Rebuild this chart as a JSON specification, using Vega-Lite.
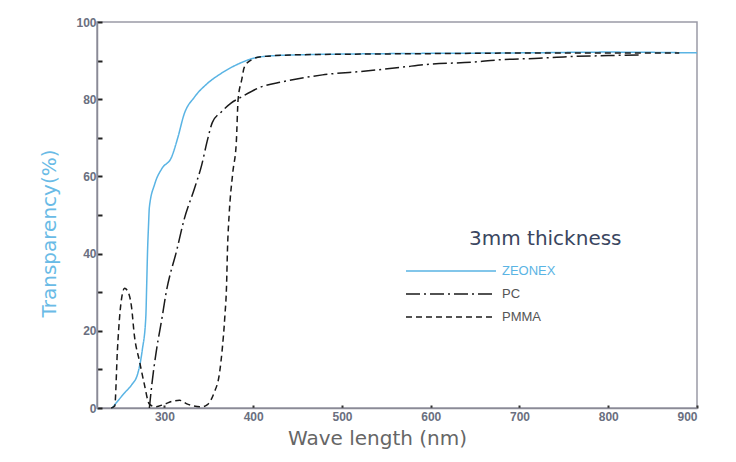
{
  "$schema": "https://vega.github.io/schema/vega-lite/v6.json",
  "width": 600,
  "height": 386,
  "autosize": {"type": "none"},
  "padding": {"left": 97, "top": 22, "right": 39, "bottom": 54},
  "background": "#ffffff",
  "config": {
    "view": {"stroke": "#9a9aa6", "strokeWidth": 1.5},
    "font": "Liberation Sans"
  },
  "title": {
    "text": "3mm thickness",
    "orient": "top",
    "anchor": "start",
    "frame": "group",
    "offset": 0,
    "dx": 372,
    "dy": 249,
    "baseline": "alphabetic",
    "fontSize": 20,
    "fontWeight": "normal",
    "font": "DejaVu Sans",
    "color": "#3a4660"
  },
  "data": {
    "values": [
      {"s": "ZEONEX", "wl": 241, "T": 0},
      {"s": "ZEONEX", "wl": 255, "T": 3.9},
      {"s": "ZEONEX", "wl": 263, "T": 6},
      {"s": "ZEONEX", "wl": 270, "T": 9},
      {"s": "ZEONEX", "wl": 275, "T": 15},
      {"s": "ZEONEX", "wl": 279, "T": 23.6},
      {"s": "ZEONEX", "wl": 280, "T": 32},
      {"s": "ZEONEX", "wl": 281, "T": 41},
      {"s": "ZEONEX", "wl": 282, "T": 47},
      {"s": "ZEONEX", "wl": 283, "T": 52},
      {"s": "ZEONEX", "wl": 289, "T": 58},
      {"s": "ZEONEX", "wl": 297, "T": 62},
      {"s": "ZEONEX", "wl": 308, "T": 65},
      {"s": "ZEONEX", "wl": 315, "T": 70},
      {"s": "ZEONEX", "wl": 322, "T": 76},
      {"s": "ZEONEX", "wl": 334, "T": 80.6},
      {"s": "ZEONEX", "wl": 348, "T": 84},
      {"s": "ZEONEX", "wl": 364, "T": 86.7},
      {"s": "ZEONEX", "wl": 382, "T": 89},
      {"s": "ZEONEX", "wl": 409, "T": 91},
      {"s": "ZEONEX", "wl": 450, "T": 91.5},
      {"s": "ZEONEX", "wl": 550, "T": 91.8},
      {"s": "ZEONEX", "wl": 700, "T": 92},
      {"s": "ZEONEX", "wl": 800, "T": 92.2},
      {"s": "ZEONEX", "wl": 900, "T": 92},
      {"s": "PC", "wl": 283, "T": 0},
      {"s": "PC", "wl": 286, "T": 6.5},
      {"s": "PC", "wl": 291, "T": 15},
      {"s": "PC", "wl": 297, "T": 23},
      {"s": "PC", "wl": 302, "T": 30},
      {"s": "PC", "wl": 314, "T": 41},
      {"s": "PC", "wl": 322, "T": 48.7},
      {"s": "PC", "wl": 334, "T": 57},
      {"s": "PC", "wl": 342, "T": 63},
      {"s": "PC", "wl": 348, "T": 69},
      {"s": "PC", "wl": 354, "T": 74},
      {"s": "PC", "wl": 364, "T": 76.7},
      {"s": "PC", "wl": 375, "T": 79},
      {"s": "PC", "wl": 387, "T": 80.6},
      {"s": "PC", "wl": 409, "T": 83.2},
      {"s": "PC", "wl": 433, "T": 84.5},
      {"s": "PC", "wl": 478, "T": 86.3},
      {"s": "PC", "wl": 527, "T": 87.3},
      {"s": "PC", "wl": 568, "T": 88.3},
      {"s": "PC", "wl": 595, "T": 89},
      {"s": "PC", "wl": 647, "T": 89.6},
      {"s": "PC", "wl": 677, "T": 90.2},
      {"s": "PC", "wl": 722, "T": 90.6},
      {"s": "PC", "wl": 753, "T": 91},
      {"s": "PC", "wl": 800, "T": 91.3},
      {"s": "PC", "wl": 838, "T": 91.5},
      {"s": "PMMA", "wl": 240, "T": 0},
      {"s": "PMMA", "wl": 244, "T": 0.5},
      {"s": "PMMA", "wl": 247, "T": 15},
      {"s": "PMMA", "wl": 250, "T": 25},
      {"s": "PMMA", "wl": 253, "T": 30},
      {"s": "PMMA", "wl": 255, "T": 31},
      {"s": "PMMA", "wl": 258, "T": 30.5},
      {"s": "PMMA", "wl": 263, "T": 26},
      {"s": "PMMA", "wl": 266, "T": 19},
      {"s": "PMMA", "wl": 272, "T": 12},
      {"s": "PMMA", "wl": 277, "T": 6.5},
      {"s": "PMMA", "wl": 283, "T": 1},
      {"s": "PMMA", "wl": 290, "T": 0.3},
      {"s": "PMMA", "wl": 300, "T": 1},
      {"s": "PMMA", "wl": 310, "T": 1.8},
      {"s": "PMMA", "wl": 317, "T": 2},
      {"s": "PMMA", "wl": 326, "T": 1},
      {"s": "PMMA", "wl": 342, "T": 0.3},
      {"s": "PMMA", "wl": 348, "T": 0.8},
      {"s": "PMMA", "wl": 356, "T": 4},
      {"s": "PMMA", "wl": 362, "T": 9},
      {"s": "PMMA", "wl": 365, "T": 15},
      {"s": "PMMA", "wl": 368, "T": 23.6},
      {"s": "PMMA", "wl": 370, "T": 32},
      {"s": "PMMA", "wl": 371, "T": 41},
      {"s": "PMMA", "wl": 373, "T": 50.5},
      {"s": "PMMA", "wl": 377, "T": 61},
      {"s": "PMMA", "wl": 381, "T": 69},
      {"s": "PMMA", "wl": 383, "T": 80},
      {"s": "PMMA", "wl": 387, "T": 85},
      {"s": "PMMA", "wl": 390, "T": 88.3},
      {"s": "PMMA", "wl": 398, "T": 90.2},
      {"s": "PMMA", "wl": 409, "T": 91},
      {"s": "PMMA", "wl": 450, "T": 91.5},
      {"s": "PMMA", "wl": 600, "T": 91.8},
      {"s": "PMMA", "wl": 750, "T": 92},
      {"s": "PMMA", "wl": 880, "T": 92}
    ]
  },
  "mark": {"type": "line", "strokeWidth": 1.5, "interpolate": "monotone"},
  "encoding": {
    "x": {
      "field": "wl", "type": "quantitative",
      "scale": {"domain": [224, 900], "nice": false, "zero": false},
      "axis": {
        "title": "Wave length (nm)",
        "values": [300, 400, 500, 600, 700, 800, 900],
        "grid": false,
        "domainColor": "#8a8a96", "domainWidth": 1.5,
        "tickColor": "#333", "tickSize": -3, "tickWidth": 2,
        "labelColor": "#6a6f80", "labelFont": "Liberation Sans", "labelFontWeight": "bold", "labelFontSize": 12,
        "labelPadding": 6,
        "titleColor": "#666", "titleFont": "DejaVu Sans", "titleFontWeight": "normal", "titleFontSize": 20,
        "titlePadding": 6,
        "titleX": 280,
        "titleAlign": "center"
      }
    },
    "y": {
      "field": "T", "type": "quantitative",
      "scale": {"domain": [0, 100], "nice": false},
      "axis": {
        "title": "Transparency(%)",
        "values": [0, 10, 20, 30, 40, 50, 60, 70, 80, 90, 100],
        "labelExpr": "datum.value % 20 == 0 ? datum.label : ''",
        "grid": false,
        "domainColor": "#8a8a96", "domainWidth": 1.5,
        "tickColor": "#222", "tickSize": -5, "tickWidth": 2,
        "labelColor": "#6a6f80", "labelFont": "Liberation Sans", "labelFontWeight": "bold", "labelFontSize": 12,
        "labelPadding": 6,
        "titleColor": "#6abbe6", "titleFont": "DejaVu Sans", "titleFontWeight": "normal", "titleFontSize": 20,
        "titlePadding": 16,
        "titleY": 211,
        "titleAlign": "center"
      }
    },
    "color": {
      "field": "s", "type": "nominal",
      "scale": {"domain": ["ZEONEX", "PC", "PMMA"], "range": ["#5ab4e4", "#1a1a1a", "#1a1a1a"]},
      "legend": {
        "title": null,
        "orient": "none",
        "legendX": 308,
        "legendY": 238,
        "padding": 0,
        "symbolType": "M-1,0H8",
        "symbolSize": 400,
        "symbolStrokeWidth": 1.5,
        "labelFontSize": 13,
        "labelColor": {"expr": "datum.value == 'ZEONEX' ? '#5ab4e4' : '#555555'"},
        "labelOffset": 75,
        "rowPadding": 5
      }
    },
    "strokeDash": {
      "field": "s", "type": "nominal",
      "scale": {"domain": ["ZEONEX", "PC", "PMMA"], "range": [[1, 0], [14, 4, 2, 4], [6, 4]]},
      "legend": null
    }
  }
}
